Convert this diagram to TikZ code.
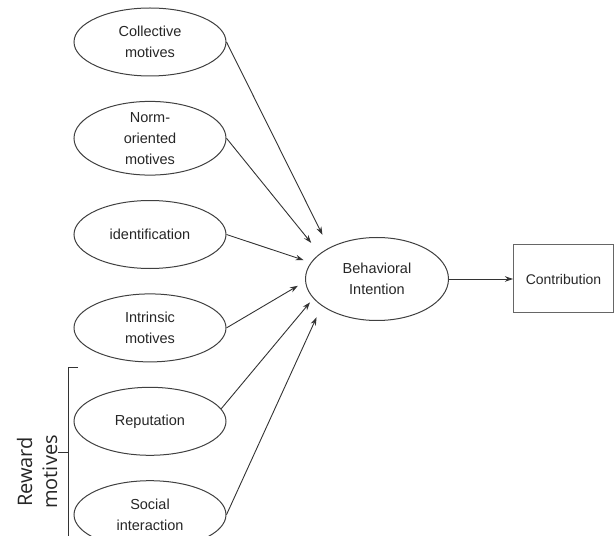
\documentclass[tikz,border=0pt]{standalone}
\usepackage{fontspec}
\setmainfont{Liberation Sans}
\newfontfamily\bracketfont{Open Sans}
\usetikzlibrary{
  arrows.meta,
  positioning,
  shapes.geometric
}

\begin{document}
\begin{tikzpicture}[
      x=1pt, y=1pt,
      >={Stealth[length=8pt,width=5.5pt]},
      node distance=24.4pt,
      motiv/.style={ellipse, draw=black!75, line width=1pt, minimum width=152pt, minimum height=68pt, inner sep=0pt, align=center, text=black!85, font=\fontsize{14.5}{21}\selectfont},
      intent/.style={motiv, minimum width=143pt, minimum height=83pt},
      ergebnis/.style={rectangle, draw=black!60, line width=1pt, minimum width=100pt, minimum height=68pt, text=black!85, font=\fontsize{14}{20}\selectfont},
      pfeil/.style={->, line width=0.9pt, black!80}
  ]
      \useasboundingbox (0,0) rectangle (614,536);

      % Motive
      \node[motiv] (coll) at (150,494) {Collective\\motives};
      \node[motiv, below=of coll] (norm) {Norm-\\oriented\\motives};
      \node[motiv, below=of norm] (ident) {identification};
      \node[motiv, below=of ident] (intr) {Intrinsic\\motives};
      \node[motiv, below=of intr] (rep) {Reputation};
      \node[motiv, below=of rep] (soc) {Social\\interaction};

      % Absicht und Ergebnis
      \node[intent] (bi) at (377,257) {Behavioral\\Intention};
      \node[ergebnis, right=64pt of bi] (contr) {Contribution};

      \draw[pfeil, shorten >=14.5pt] (coll.east) -- (bi.147);
      \draw[pfeil, shorten >=13.6pt] (norm.east) -- (bi.156);
      \draw[pfeil, shorten >=7.6pt] (ident.east) -- (bi.166);
      \draw[pfeil, shorten >=8.4pt] (intr.east) -- (bi.182);
      \draw[pfeil, shorten >=5pt] (rep.10) -- (bi.197);
      \draw[pfeil, shorten >=12.5pt] (soc.east) -- (bi.206);
      \draw[pfeil] (bi) -- (contr);

      % Klammer
      \draw[black!80, line width=1pt] (78,168) -- (68,168) -- (68,-1);
      \draw[black!80, line width=1pt] (68,83) -- (58,83);
      \node[rotate=90, align=center, text=black!85, font=\bracketfont\fontsize{20}{25}\selectfont] (reward) at (37,64) {Reward\\motives};

  \end{tikzpicture}
\end{document}
